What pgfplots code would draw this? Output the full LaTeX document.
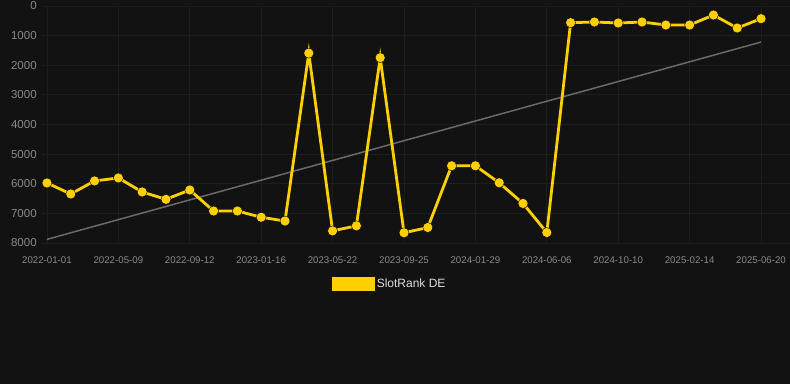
\documentclass[border=0pt]{standalone}
\usepackage{pgfplots}
\pgfplotsset{compat=1.18}
\usepackage{fontspec}
\setmainfont{Liberation Sans}
\definecolor{bg}{HTML}{121212}
\definecolor{gridc}{HTML}{1D1D1D}
\definecolor{slot}{HTML}{FFD000}
\definecolor{trend}{HTML}{6A6A6A}
\definecolor{tickc}{HTML}{8A8A8A}
\definecolor{legc}{HTML}{DDDDDD}
\begin{document}
\begin{tikzpicture}
\fill[bg] (0pt,0pt) rectangle (790pt,384pt);
\begin{axis}[
  at={(42.2pt,141pt)}, anchor=south west,
  scale only axis, width=747.4pt, height=237pt,
  xmin=-0.2, xmax=31.2, ymin=0, ymax=8000, y dir=reverse,
  clip=false,
  axis line style={draw=none},
  major tick length=0pt,
  grid=major, major grid style={gridc, line width=0.8pt},
  xtick={0,3,...,30},
  xticklabels={2022-01-01,2022-05-09,2022-09-12,2023-01-16,2023-05-22,2023-09-25,2024-01-29,2024-06-06,2024-10-10,2025-02-14,2025-06-20},
  ytick={0,1000,...,8000},
  /pgf/number format/assume math mode=true,
  /pgf/number format/1000 sep={},
  yticklabel style={font=\fontsize{11.5}{12}\selectfont, text=tickc, xshift=-2pt},
  xticklabel style={font=\fontsize{9.7}{10}\selectfont, text=tickc, yshift=-10pt},
  legend style={at={(0.465,-0.173)}, anchor=center, draw=none, fill=none,
    text=legc, font=\fontsize{12}{13}\selectfont, legend columns=1},
  legend cell align=left,
]
\addplot[trend, line width=1.5pt, forget plot] coordinates {(0,7877) (30,1217)};
\addplot[slot, line width=2.8pt, line join=miter,
  legend image code/.code={\fill[slot, sharp corners] (0pt,-5.8pt) rectangle (40pt,5.8pt);}]
  coordinates {
  (0,5973) (1,6345) (2,5905) (3,5804) (4,6277) (5,6525) (6,6210) (7,6920)
  (8,6920) (9,7130) (10,7258) (11,1590) (12,7590) (13,7420) (14,1745)
  (15,7655) (16,7477) (17,5394) (18,5394) (19,5968) (20,6665) (21,7646)
  (22,563) (23,540) (24,574) (25,540) (26,642) (27,642) (28,304) (29,743) (30,428)
  };
\addlegendentry{SlotRank DE}
\addplot[only marks, mark=*, mark size=5pt, mark options={fill=slot, draw=none}, forget plot]
  coordinates {
  (0,5973) (1,6345) (2,5905) (3,5804) (4,6277) (5,6525) (6,6210) (7,6920)
  (8,6920) (9,7130) (10,7258) (11,1590) (12,7590) (13,7420) (14,1745)
  (15,7655) (16,7477) (17,5394) (18,5394) (19,5968) (20,6665) (21,7646)
  (22,563) (23,540) (24,574) (25,540) (26,642) (27,642) (28,304) (29,743) (30,428)
  };
\end{axis}
\pgfresetboundingbox
\useasboundingbox (0pt,0pt) rectangle (790pt,384pt);
\end{tikzpicture}
\end{document}
